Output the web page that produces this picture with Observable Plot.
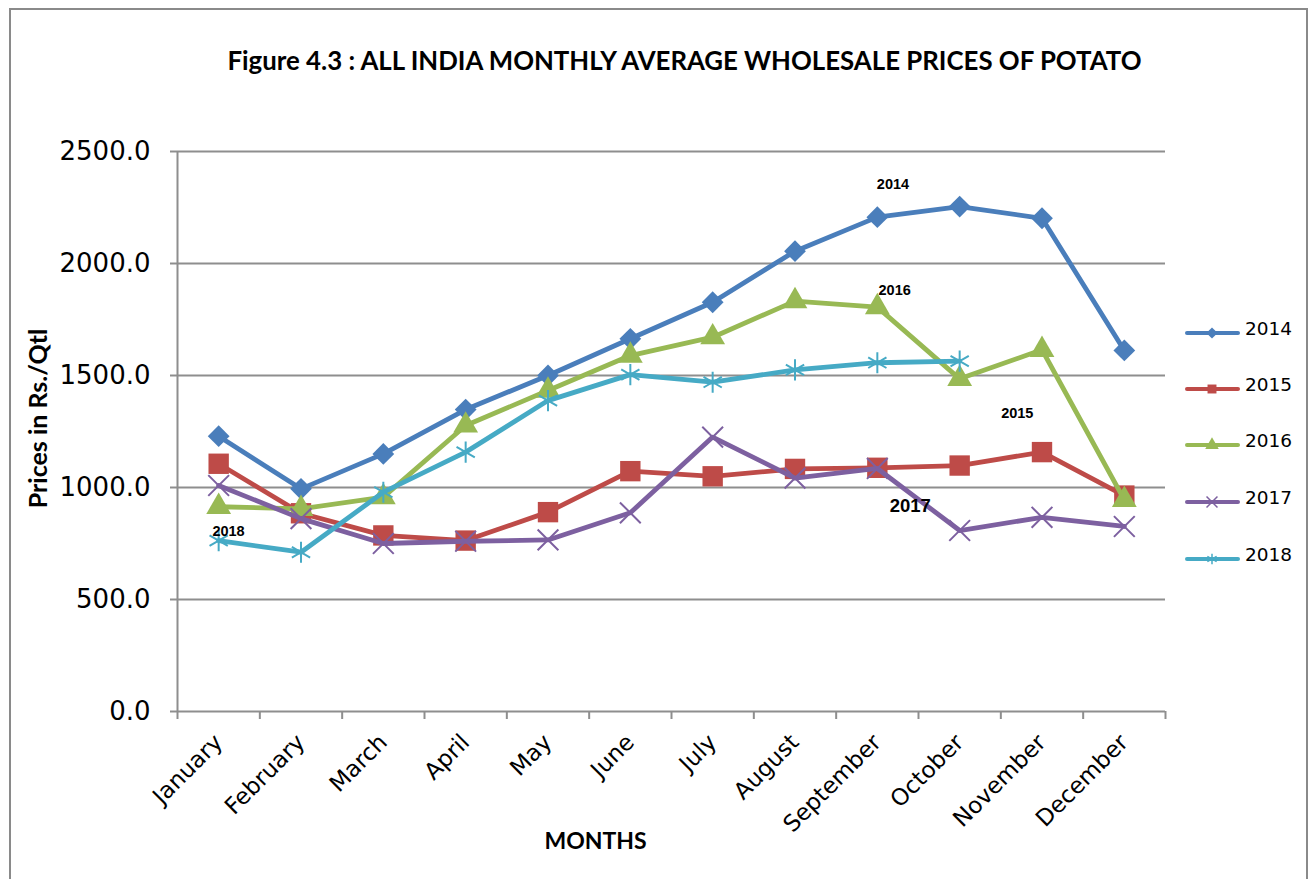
<!DOCTYPE html>
<html><head><meta charset="utf-8">
<script src="https://cdn.jsdelivr.net/npm/d3@7"></script>
<script src="https://cdn.jsdelivr.net/npm/@observablehq/plot@0.6"></script>
<style>
html,body{margin:0;padding:0;background:#fff;overflow:hidden;}
#wrap{position:relative;width:1311px;height:879px;overflow:hidden;}
#frame{position:absolute;left:9px;top:8px;width:1299px;height:900px;border:2.5px solid #8a8a8a;box-sizing:border-box;}
#chart{position:absolute;left:0;top:0;}
#legend{position:absolute;left:1180px;top:314px;font-family:"DejaVu Sans",sans-serif;font-size:18.5px;color:#000;}
.lrow{position:absolute;left:0;height:30px;width:130px;}
.lrow svg{position:absolute;left:0;top:0;}
.lrow span{position:absolute;left:65px;top:4px;}
</style></head><body>
<div id="wrap"><div id="frame"></div><div id="chart"></div><div id="legend"></div></div>
<script>
const titleText = "Figure 4.3 : ALL INDIA MONTHLY AVERAGE WHOLESALE PRICES OF POTATO";
const yTitle = "Prices in Rs./Qtl";
const xTitle = "MONTHS";
const months = ["January","February","March","April","May","June","July","August","September","October","November","December"];
const years = ["2014","2015","2016","2017","2018"];
const yTicks = [0, 500, 1000, 1500, 2000, 2500];

const p2014 = [1229, 994, 1150, 1348, 1500, 1664, 1827, 2055, 2207, 2254, 2202, 1612];
const p2015 = [1106, 885, 786, 763, 890, 1073, 1050, 1083, 1088, 1098, 1158, 964];
const p2016 = [914, 905, 957, 1277, 1433, 1589, 1671, 1832, 1805, 1485, 1615, 945];
const p2017 = [1009, 861, 750, 760, 766, 887, 1225, 1042, 1085, 808, 867, 826];
const p2018 = [763, 711, 979, 1158, 1388, 1504, 1470, 1525, 1557, 1564];

// in-chart series labels (month position, price level)
const annLabels = ["2014", "2016", "2015", "2017", "2018"];
const annMonth = [8.19, 8.21, 9.70, 8.40, 0.12];
const annPrice = [2353, 1879, 1330, 915, 804];

// styles
const colors = ["#4A7EBB", "#BE4B48", "#98B954", "#7D60A0", "#46AAC5"];
const symbols = ["diamond2", "square", "triangle", "times", "asterisk"];
const filled = [true, true, true, false, false];
const radii = [9.8, 11.5, 9.2, 9.5, 10];
const annSizes = [14.5, 14.5, 14.5, 18.5, 14.5];

const series = {"2014": p2014, "2015": p2015, "2016": p2016, "2017": p2017, "2018": p2018};
const rows = years.flatMap(y => series[y].map((v, i) => ({year: y, m: i, v})));
const ann = annLabels.map((t, i) => ({t, m: annMonth[i], v: annPrice[i], s: annSizes[i]}));

const gray = "#8e8e8e";
const seriesMarks = years.flatMap((y, k) => {
  const d = rows.filter(r => r.year === y);
  return [
    Plot.line(d, {x: "m", y: "v", stroke: "year", strokeWidth: 4.8, strokeLinejoin: "round", strokeLinecap: "round"}),
    Plot.dot(d, {x: "m", y: "v", symbol: "year", r: radii[k],
      fill: filled[k] ? "year" : "none", stroke: filled[k] ? "none" : "year", strokeWidth: 2})
  ];
});

const chart = Plot.plot({
  width: 1311, height: 879,
  marginLeft: 177, marginRight: 146, marginTop: 151, marginBottom: 168,
  style: {fontFamily: "DejaVu Sans, sans-serif", fontSize: "22px", background: "transparent", color: "#000"},
  x: {type: "linear", domain: [-0.5, 11.5], axis: null},
  y: {domain: [0, 2500], axis: null},
  color: {domain: years, range: colors},
  symbol: {domain: years, range: symbols},
  marks: [
    Plot.gridY(yTicks.filter(t => t > 0), {stroke: gray, strokeOpacity: 1, strokeWidth: 2}),
    Plot.axisY(yTicks, {tickSize: 7, tickPadding: 20, tickFormat: d => d.toFixed(1), fontSize: 26, stroke: gray, strokeWidth: 2, label: null}),
    Plot.axisX(d3.range(13).map(i => i - 0.5), {tickSize: 8, tickFormat: () => "", stroke: gray, strokeWidth: 2, label: null}),
    Plot.axisX(d3.range(12), {tickSize: 0, tickPadding: 27, tickRotate: -45, tickFormat: i => months[i], fontSize: 23, label: null}),
    Plot.ruleX([-0.5], {stroke: gray, strokeWidth: 2}),
    Plot.ruleY([0], {stroke: gray, strokeWidth: 2}),
    ...seriesMarks,
    Plot.text(ann, {x: "m", y: "v", text: "t", fontSize: d => d.s, fontWeight: "bold", fontFamily: "Liberation Sans, Arial, sans-serif", fill: "#000"}),
    Plot.text([titleText], {frameAnchor: "top", textAnchor: "middle", dx: 13, dy: -100, fontSize: 25.8, fontWeight: "bold", fontFamily: "Lato, sans-serif", fill: "#000"}),
    Plot.text([yTitle], {frameAnchor: "left", textAnchor: "middle", rotate: -90, dx: -139, dy: -13, fontSize: 25, fontWeight: "bold", fontFamily: "Lato, sans-serif", fill: "#000"}),
    Plot.text([xTitle], {frameAnchor: "bottom", textAnchor: "middle", dx: -76, dy: 137, fontSize: 23, fontWeight: "bold", fontFamily: "Lato, sans-serif", fill: "#000"})
  ]
});
document.getElementById("chart").appendChild(chart);

// legend
const legend = document.getElementById("legend");
const rowTops = [0, 56, 112, 169, 226];
years.forEach((y, k) => {
  const row = document.createElement("div");
  row.className = "lrow";
  row.style.top = rowTops[k] + "px";
  const svg = d3.create("svg").attr("width", 64).attr("height", 30);
  svg.append("line").attr("x1", 7).attr("x2", 58).attr("y1", 19).attr("y2", 19)
    .attr("stroke", colors[k]).attr("stroke-width", 4).attr("stroke-linecap", "round");
  const symMap = {diamond2: d3.symbolDiamond2, square: d3.symbolSquare, triangle: d3.symbolTriangle, times: d3.symbolTimes, asterisk: d3.symbolAsterisk};
  const sym = d3.symbol(symMap[symbols[k]], 80)();
  svg.append("path").attr("d", sym).attr("transform", "translate(32,19)")
    .attr("fill", filled[k] ? colors[k] : "none").attr("stroke", filled[k] ? "none" : colors[k]).attr("stroke-width", 1.5);
  row.appendChild(svg.node());
  const sp = document.createElement("span");
  sp.textContent = y;
  row.appendChild(sp);
  legend.appendChild(row);
});
</script>
</body></html>
